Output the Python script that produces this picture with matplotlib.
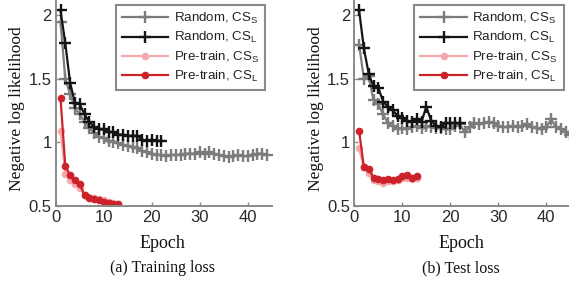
import matplotlib
matplotlib.use("Agg")
import matplotlib.pyplot as plt
import numpy as np

plt.rcParams['font.family'] = ['Liberation Sans', 'DejaVu Sans']
plt.rcParams['mathtext.fontset'] = 'custom'
plt.rcParams['mathtext.rm'] = 'Liberation Sans'
plt.rcParams['mathtext.it'] = 'Liberation Sans'

# ---- data: training loss ----
train_rand_s = [1.95, 1.50, 1.38, 1.27, 1.22, 1.16, 1.11, 1.07, 1.04, 1.03,
                1.01, 1.00, 0.99, 0.98, 0.97, 0.96, 0.95, 0.93, 0.92, 0.91,
                0.90, 0.90, 0.89, 0.90, 0.90, 0.90, 0.91, 0.91, 0.91, 0.92,
                0.91, 0.92, 0.91, 0.90, 0.89, 0.88, 0.89, 0.90, 0.89, 0.89,
                0.90, 0.91, 0.91, 0.90]
train_rand_l = [2.04, 1.78, 1.47, 1.31, 1.30, 1.22, 1.16, 1.12, 1.10, 1.10,
                1.08, 1.08, 1.06, 1.06, 1.05, 1.05, 1.05, 1.02, 1.01, 1.02,
                1.01, 1.01]
train_pre_s = [1.09, 0.75, 0.70, 0.67, 0.64, 0.58, 0.57, 0.56, 0.55, 0.54,
               0.53, 0.52, 0.51]
train_pre_l = [1.35, 0.81, 0.74, 0.70, 0.67, 0.58, 0.56, 0.55, 0.54, 0.53,
               0.52, 0.515, 0.51]

# ---- data: test loss ----
test_rand_s = [1.77, 1.50, 1.52, 1.33, 1.30, 1.22, 1.15, 1.13, 1.10, 1.11,
               1.10, 1.12, 1.13, 1.11, 1.13, 1.12, 1.11, 1.11, 1.10, 1.10,
               1.13, 1.14, 1.08, 1.12, 1.15, 1.14, 1.15, 1.16, 1.15, 1.13,
               1.12, 1.12, 1.13, 1.12, 1.13, 1.14, 1.12, 1.11, 1.10, 1.12,
               1.18, 1.12, 1.10, 1.08, 1.06]
test_rand_l = [2.04, 1.74, 1.54, 1.44, 1.43, 1.32, 1.28, 1.25, 1.21, 1.19,
               1.17, 1.16, 1.18, 1.16, 1.28, 1.17, 1.13, 1.12, 1.15, 1.15,
               1.15, 1.15]
test_pre_s = [0.95, 0.80, 0.76, 0.70, 0.69, 0.68, 0.69, 0.69, 0.70, 0.72,
              0.72, 0.71, 0.72]
test_pre_l = [1.09, 0.80, 0.79, 0.72, 0.71, 0.70, 0.71, 0.70, 0.71, 0.73,
              0.74, 0.72, 0.73]

labels = ['Random, CS$_\\mathrm{S}$', 'Random, CS$_\\mathrm{L}$',
          'Pre-train, CS$_\\mathrm{S}$', 'Pre-train, CS$_\\mathrm{L}$']
xticks = [0, 10, 20, 30, 40]
yticks = [0.5, 1.0, 1.5, 2.0]
ytick_labels = ['0.5', '1', '1.5', '2']
captions = ['(a) Training loss', '(b) Test loss']

C_GRAY = '#7c7c7c'
C_BLACK = '#141414'
C_PINK = '#f6a9ad'
C_RED = '#cc2229'
SPINE = '#8a8a8a'

W, H = 569, 281
fig = plt.figure(figsize=(W / 100, H / 100), dpi=100)

axw = 216 / W
axb = (H - 205.5) / H
axh = 1.0 - axb
lefts = [55.7 / W, 354.3 / W]
ylab_x = [17 / W, 316 / W]

panels = [
    (train_rand_s, train_rand_l, train_pre_s, train_pre_l),
    (test_rand_s, test_rand_l, test_pre_s, test_pre_l),
]

for i, (rs, rl, ps, pl) in enumerate(panels):
    ax = fig.add_axes([lefts[i], axb, axw, axh])
    ax.plot(np.arange(1, len(rs) + 1), rs, color=C_GRAY, lw=1.6,
            marker='+', ms=8, mew=1.7, label=labels[0])
    ax.plot(np.arange(1, len(rl) + 1), rl, color=C_BLACK, lw=1.6,
            marker='+', ms=8, mew=1.7, label=labels[1])
    ax.plot(np.arange(1, len(ps) + 1), ps, color=C_PINK, lw=1.6,
            marker='o', ms=5.5, mew=0, label=labels[2])
    ax.plot(np.arange(1, len(pl) + 1), pl, color=C_RED, lw=1.6,
            marker='o', ms=5.5, mew=0, label=labels[3])
    ax.set_xlim(0, 45)
    ax.set_ylim(0.5, 2.122)
    ax.set_xticks(xticks)
    ax.set_yticks(yticks)
    ax.set_yticklabels(ytick_labels)
    for s in ['top', 'right']:
        ax.spines[s].set_visible(False)
    for s in ['left', 'bottom']:
        ax.spines[s].set_color(SPINE)
        ax.spines[s].set_linewidth(1.4)
    ax.tick_params(direction='in', length=3, width=1, color=SPINE,
                   labelsize=12, labelcolor='#2a2a2a', pad=3)
    leg = ax.legend(loc='upper right', bbox_to_anchor=(0.969, 0.976),
                    borderaxespad=0, fontsize=9.6, handlelength=3.5,
                    handletextpad=0.4, labelspacing=0.32, borderpad=0.45,
                    fancybox=False, framealpha=1)
    leg.get_frame().set_edgecolor(SPINE)
    leg.get_frame().set_linewidth(1.5)
    for t in leg.get_texts():
        t.set_color('#222222')

    cx = lefts[i] + axw / 2 - 1 / W
    fig.text(cx, 1 - 243 / H, 'Epoch', ha='center', va='center',
             family='Liberation Serif', fontsize=13, color='#111111')
    fig.text(cx, 1 - 268 / H, captions[i], ha='center', va='center',
             family='Liberation Serif', fontsize=11.5, color='#111111')
    fig.text(ylab_x[i], 1 - 109 / H, 'Negative log likelihood', ha='center',
             va='center', rotation=90, family='Liberation Serif',
             fontsize=12.5, color='#111111')

fig.savefig('out.png', dpi=100)
